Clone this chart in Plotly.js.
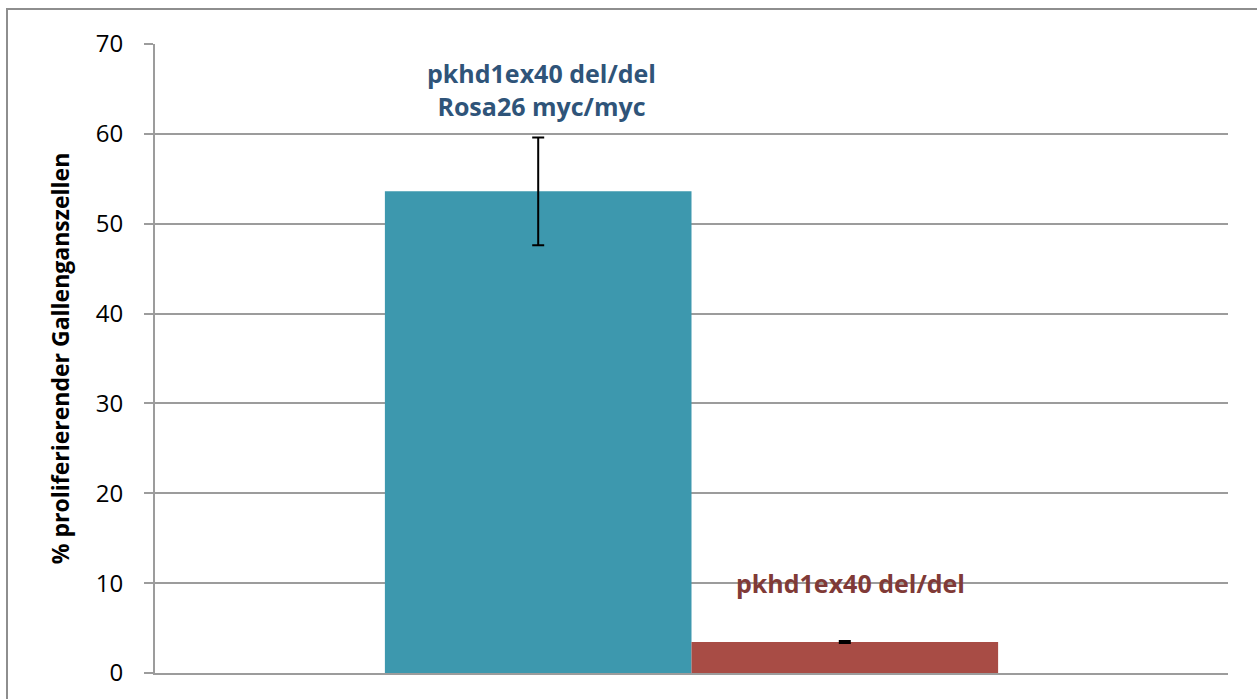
<!DOCTYPE html>
<html>
<head>
<meta charset="utf-8">
<script src="https://cdn.plot.ly/plotly-3.0.1.min.js"></script>
<style>
  html, body { margin: 0; padding: 0; overflow: hidden; background: #ffffff; }
  #chart { position: absolute; left: 0; top: 0; width: 1257px; height: 699px; }
  #frame { position: absolute; left: 6px; top: 8px; width: 1300px; height: 800px;
           border: 2px solid #8e8e8e; pointer-events: none; }
</style>
</head>
<body>
<div id="chart"></div>
<div id="frame"></div>
<script>
// ---- data ----
const categories = ['Gallengangszellen'];
const seriesNames = ['pkhd1ex40 del/del<br>Rosa26 myc/myc', 'pkhd1ex40 del/del'];
const valuesMyc = [53.6];
const errorsMyc = [6.0];
const valuesDel = [3.45];
const errorsDel = [0.12];
const yTickValues = [0, 10, 20, 30, 40, 50, 60, 70];
const yTitle = '% proliferierender Gallenganszellen';

// ---- styles ----
const tealColor = '#3d98ae';
const redColor = '#a84c45';
const tealText = '#2f5479';
const redText = '#803a37';
const gridColor = '#9c9c9c';

const traces = [
  {
    type: 'bar', name: seriesNames[0], x: categories, y: valuesMyc,
    marker: { color: tealColor },
    error_y: { type: 'data', array: errorsMyc, visible: true, color: '#000000', thickness: 2, width: 6 },
    hoverinfo: 'y'
  },
  {
    type: 'bar', name: seriesNames[1], x: categories, y: valuesDel,
    marker: { color: redColor },
    error_y: { type: 'data', array: errorsDel, visible: true, color: '#000000', thickness: 2, width: 6 },
    hoverinfo: 'y'
  }
];

const layout = {
  width: 1257, height: 699,
  margin: { l: 155, r: 29, t: 44, b: 26 },
  paper_bgcolor: 'rgba(0,0,0,0)',
  plot_bgcolor: '#ffffff',
  showlegend: false,
  barmode: 'group',
  bargap: 0.4285,
  bargroupgap: 0,
  font: { family: 'Open Sans, sans-serif', color: '#000000' },
  xaxis: {
    type: 'category', showticklabels: false, ticks: '', showgrid: false,
    showline: true, linecolor: gridColor, linewidth: 2, zeroline: false,
    fixedrange: true
  },
  yaxis: {
    range: [0, 70], tickvals: yTickValues, ticktext: yTickValues.map(String),
    showgrid: true, gridcolor: gridColor, gridwidth: 2,
    showline: true, linecolor: gridColor, linewidth: 2,
    ticks: 'outside', ticklen: 9, tickwidth: 2, tickcolor: gridColor,
    ticklabelstandoff: 16,
    tickfont: { family: 'Open Sans, sans-serif', size: 24, color: '#000000' },
    zeroline: false,
    title: { text: yTitle, standoff: 20,
             font: { family: 'Open Sans, sans-serif', size: 23, color: '#000000', weight: 'bold' } },
    fixedrange: true
  },
  annotations: [
    {
      xref: 'paper', yref: 'y', x: 0.36, y: 64.9, xanchor: 'center', yanchor: 'middle',
      text: '<b>' + seriesNames[0] + '</b>', showarrow: false,
      font: { family: 'Open Sans, sans-serif', size: 25, color: tealText }
    },
    {
      xref: 'paper', yref: 'y', x: 0.648, y: 10, xanchor: 'center', yanchor: 'middle',
      text: '<b>' + seriesNames[1] + '</b>', showarrow: false,
      font: { family: 'Open Sans, sans-serif', size: 25, color: redText }
    }
  ]
};

Plotly.newPlot('chart', traces, layout, { displayModeBar: false, staticPlot: true });
</script>
</body>
</html>
